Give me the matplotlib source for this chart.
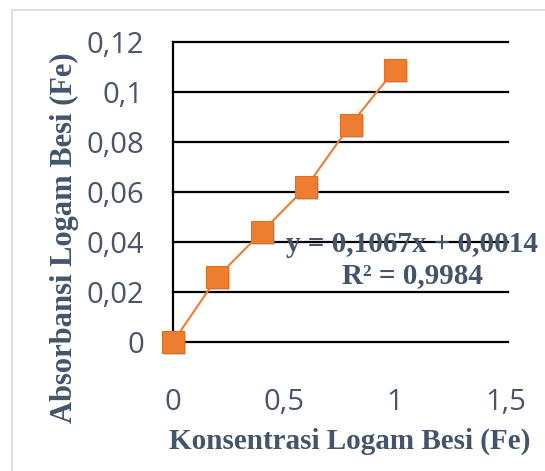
import matplotlib
matplotlib.use("Agg")
import matplotlib.pyplot as plt
import matplotlib.transforms as mtransforms
from matplotlib.patches import Rectangle

x_vals = [0, 0.2, 0.4, 0.6, 0.8, 1.0]
y_vals = [0, 0.026, 0.044, 0.062, 0.087, 0.109]
x_ticks = [0, 0.5, 1, 1.5]
x_tick_labels = ["0", "0,5", "1", "1,5"]
y_ticks = [0, 0.02, 0.04, 0.06, 0.08, 0.1, 0.12]
y_tick_labels = ["0", "0,02", "0,04", "0,06", "0,08", "0,1", "0,12"]
x_label = "Konsentrasi Logam Besi (Fe)"
y_label = "Absorbansi Logam Besi (Fe)"
eq_text = "y = 0,1067x + 0,0014\nR² = 0,9984"

W, H = 545, 471
fig = plt.figure(figsize=(W / 100, H / 100), dpi=100)
fig.patch.set_facecolor("white")
fig.patches.append(Rectangle((12 / W, -0.1), 1.2, 1 - 10 / H + 0.1, transform=fig.transFigure,
                             fill=False, edgecolor="#D9D9D9", linewidth=1.2))

ax = fig.add_axes([173 / W, 1 - 342 / H, (506 - 173) / W, (342 - 42) / H])
ax.set_xlim(0, 1.5)
ax.set_ylim(0, 0.12)
for s in ["top", "right", "bottom"]:
    ax.spines[s].set_visible(False)
ax.spines["left"].set_color("black")
ax.spines["left"].set_linewidth(1.6)

for yt in y_ticks:
    ax.axhline(yt, color="black", linewidth=1.6, zorder=1, xmax=1.006, clip_on=False)

tick_color = "#4A5568"
ax.set_xticks(x_ticks)
ax.set_xticklabels(x_tick_labels)
ax.set_yticks(y_ticks)
ax.set_yticklabels(y_tick_labels)
ax.tick_params(axis="both", length=0, colors=tick_color, labelsize=21)
ax.tick_params(axis="x", pad=33)
ax.tick_params(axis="y", pad=21)
for lab in ax.get_xticklabels() + ax.get_yticklabels():
    lab.set_fontfamily("Open Sans")

label_color = "#44546A"
ax.set_xlabel(x_label, fontfamily="Liberation Serif", fontweight="bold", fontsize=21,
              color=label_color)
ax.xaxis.set_label_coords(350 / W, 1 - 441 / H, transform=fig.transFigure)
ax.set_ylabel(y_label, fontfamily="Liberation Serif", fontweight="bold", fontsize=22,
              color=label_color)
ax.yaxis.set_label_coords(64 / W, 1 - 238 / H, transform=fig.transFigure)
ax.xaxis.label.set_va("center")
ax.yaxis.label.set_va("center")

orange = "#ED7D31"
shadow_tr = mtransforms.offset_copy(ax.transData, fig=fig, x=1.5, y=-1.5, units="points")
ax.plot(x_vals, y_vals, linestyle="none", marker="s", markersize=16.5, color="#999999",
        alpha=0.45, transform=shadow_tr, zorder=2, clip_on=False, markeredgewidth=0)
ax.plot(x_vals, y_vals, color=orange, linewidth=1.5, marker="s", markersize=16.5,
        markeredgecolor="#E07020", markeredgewidth=0.8, zorder=3, clip_on=False)

ax.text(412 / W, 1 - 260 / H, eq_text, transform=fig.transFigure, ha="center", va="center",
        fontfamily="Liberation Serif", fontweight="bold", fontsize=21, color=label_color,
        linespacing=1.2, zorder=5)

fig.savefig("out.png", dpi=100, facecolor="white")
